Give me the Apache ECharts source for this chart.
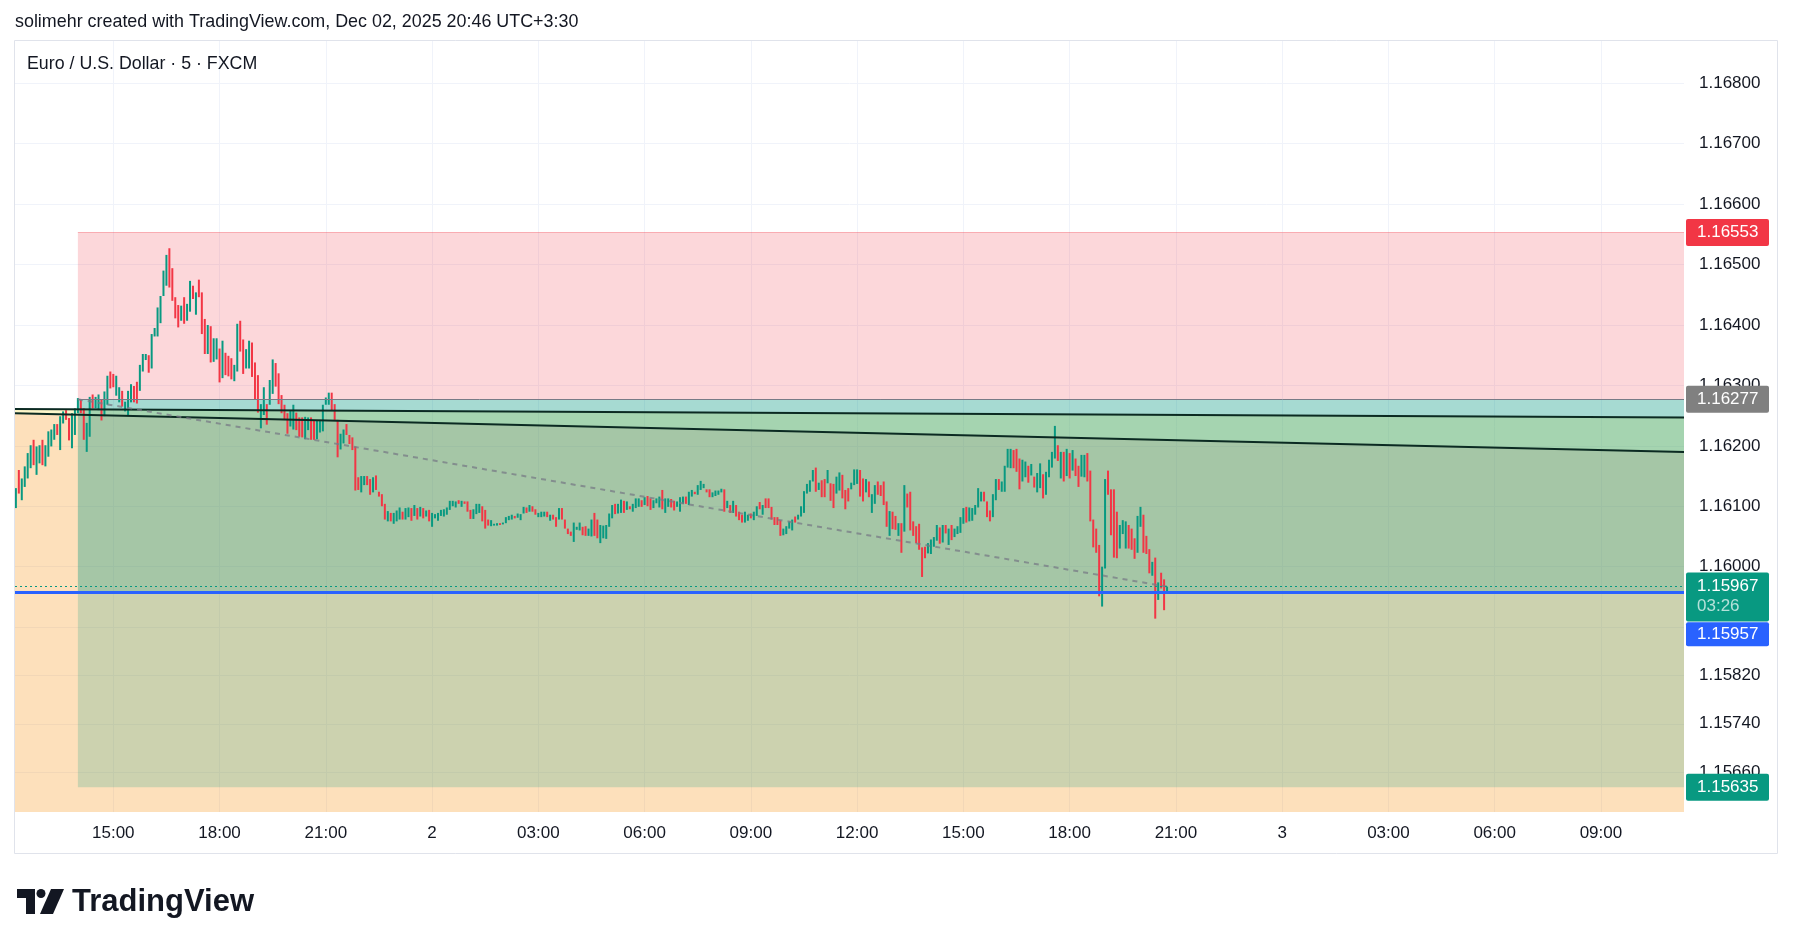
<!DOCTYPE html>
<html>
<head>
<meta charset="utf-8">
<title>EUR/USD 5m</title>
<script src="https://cdn.jsdelivr.net/npm/echarts@6/dist/echarts.min.js"></script>
<style>
  html, body { margin: 0; padding: 0; background: #fff; }
  #chart { width: 1793px; height: 944px; }
</style>
</head>
<body>
<div id="chart"></div>
<script>
// 5 minute bars, Dec 1 12:15 -> Dec 2 20:45 (UTC+3:30). x = hours since Dec 1 00:00
const firstBarHour = 12.25;
const barStepHours = 5 / 60;

const barOpen = [
  1.16097,1.16160,1.16110,1.16132,1.16146,1.16163,1.16210,1.16152,1.16171,1.16210,1.16166,1.16182,
  1.16199,1.16210,1.16236,1.16193,1.16237,1.16259,1.16246,1.16196,1.16218,1.16254,1.16276,1.16262,
  1.16190,1.16215,1.16285,1.16262,1.16259,1.16277,1.16249,1.16268,1.16323,1.16319,1.16283,1.16272,
  1.16291,1.16257,1.16251,1.16272,1.16299,1.16306,1.16291,1.16323,1.16342,1.16350,1.16328,1.16381,
  1.16381,1.16403,1.16448,1.16465,1.16527,1.16494,1.16446,1.16433,1.16407,1.16446,1.16407,1.16422,
  1.16465,1.16417,1.16475,1.16454,1.16410,1.16352,1.16398,1.16339,1.16343,1.16361,1.16312,1.16354,
  1.16349,1.16345,1.16307,1.16323,1.16407,1.16376,1.16328,1.16328,1.16371,1.16338,1.16317,1.16229,
  1.16251,1.16269,1.16268,1.16286,1.16337,1.16320,1.16284,1.16268,1.16254,1.16232,1.16227,1.16255,
  1.16247,1.16247,1.16211,1.16226,1.16247,1.16242,1.16211,1.16222,1.16224,1.16268,1.16268,1.16288,
  1.16269,1.16243,1.16194,1.16204,1.16236,1.16218,1.16214,1.16199,1.16148,1.16123,1.16135,1.16150,
  1.16145,1.16123,1.16151,1.16124,1.16120,1.16104,1.16075,1.16089,1.16071,1.16075,1.16078,1.16091,
  1.16078,1.16082,1.16097,1.16084,1.16097,1.16083,1.16097,1.16083,1.16094,1.16066,1.16080,1.16076,
  1.16084,1.16083,1.16086,1.16094,1.16100,1.16098,1.16110,1.16099,1.16108,1.16108,1.16094,1.16079,
  1.16087,1.16089,1.16100,1.16094,1.16078,1.16067,1.16068,1.16068,1.16072,1.16070,1.16072,1.16077,
  1.16078,1.16084,1.16081,1.16077,1.16088,1.16098,1.16091,1.16100,1.16095,1.16082,1.16082,1.16083,
  1.16091,1.16076,1.16086,1.16082,1.16078,1.16097,1.16078,1.16063,1.16058,1.16041,1.16061,1.16060,
  1.16066,1.16067,1.16051,1.16050,1.16089,1.16078,1.16039,1.16047,1.16046,1.16066,1.16080,1.16104,
  1.16088,1.16089,1.16109,1.16094,1.16100,1.16091,1.16097,1.16099,1.16110,1.16102,1.16117,1.16113,
  1.16097,1.16105,1.16098,1.16127,1.16089,1.16099,1.16112,1.16109,1.16099,1.16091,1.16104,1.16116,
  1.16102,1.16116,1.16124,1.16119,1.16127,1.16130,1.16128,1.16128,1.16115,1.16117,1.16119,1.16123,
  1.16128,1.16097,1.16102,1.16089,1.16102,1.16091,1.16086,1.16073,1.16076,1.16088,1.16077,1.16084,
  1.16107,1.16086,1.16113,1.16113,1.16099,1.16082,1.16082,1.16077,1.16052,1.16054,1.16063,1.16060,
  1.16083,1.16078,1.16083,1.16089,1.16121,1.16124,1.16141,1.16164,1.16127,1.16143,1.16145,1.16138,
  1.16138,1.16137,1.16121,1.16126,1.16152,1.16127,1.16130,1.16128,1.16135,1.16137,1.16160,1.16146,
  1.16123,1.16141,1.16089,1.16104,1.16141,1.16135,1.16141,1.16108,1.16051,1.16091,1.16084,1.16051,
  1.16072,1.16058,1.16121,1.16124,1.16075,1.16067,1.16071,1.16032,1.16033,1.16022,1.16021,1.16033,
  1.16043,1.16065,1.16040,1.16069,1.16036,1.16069,1.16049,1.16054,1.16056,1.16071,1.16099,1.16075,
  1.16076,1.16086,1.16098,1.16108,1.16124,1.16108,1.16093,1.16082,1.16110,1.16145,1.16124,1.16124,
  1.16164,1.16163,1.16193,1.16195,1.16179,1.16141,1.16148,1.16167,1.16151,1.16149,1.16123,1.16130,
  1.16153,1.16119,1.16148,1.16164,1.16179,1.16201,1.16146,1.16190,1.16150,1.16188,1.16159,1.16179,
  1.16167,1.16149,1.16148,1.16188,1.16159,1.16078,1.16063,1.16036,1.15934,1.15997,1.16159,1.16128,
  1.16128,1.16091,1.16030,1.16054,1.16030,1.16069,1.16063,1.16047,1.16023,1.16066,1.16086,1.16051,
  1.16029,1.15985,1.16015,1.15945,1.15990,1.15979,1.15959
];

const barClose = [
  1.16130,1.16121,1.16146,1.16166,1.16188,1.16201,1.16168,1.16199,1.16201,1.16168,1.16201,1.16224,
  1.16227,1.16236,1.16218,1.16249,1.16257,1.16243,1.16209,1.16254,1.16262,1.16279,1.16254,1.16210,
  1.16238,1.16281,1.16262,1.16281,1.16285,1.16242,1.16290,1.16316,1.16295,1.16297,1.16316,1.16297,
  1.16265,1.16273,1.16291,1.16302,1.16272,1.16270,1.16334,1.16352,1.16352,1.16321,1.16385,1.16395,
  1.16429,1.16448,1.16490,1.16516,1.16462,1.16440,1.16411,1.16396,1.16432,1.16402,1.16435,1.16473,
  1.16443,1.16454,1.16446,1.16385,1.16352,1.16400,1.16338,1.16378,1.16378,1.16305,1.16374,1.16317,
  1.16315,1.16310,1.16334,1.16402,1.16356,1.16319,1.16360,1.16374,1.16314,1.16277,1.16255,1.16269,
  1.16297,1.16235,1.16309,1.16343,1.16298,1.16269,1.16254,1.16243,1.16220,1.16258,1.16268,1.16226,
  1.16215,1.16214,1.16248,1.16247,1.16210,1.16210,1.16242,1.16243,1.16268,1.16280,1.16288,1.16259,
  1.16243,1.16181,1.16220,1.16227,1.16218,1.16203,1.16193,1.16126,1.16127,1.16150,1.16150,1.16135,
  1.16119,1.16148,1.16127,1.16116,1.16100,1.16078,1.16092,1.16075,1.16089,1.16093,1.16098,1.16078,
  1.16097,1.16098,1.16076,1.16102,1.16078,1.16099,1.16080,1.16093,1.16075,1.16089,1.16087,1.16089,
  1.16094,1.16095,1.16098,1.16109,1.16109,1.16108,1.16104,1.16109,1.16104,1.16091,1.16079,1.16095,
  1.16104,1.16104,1.16075,1.16063,1.16068,1.16077,1.16071,1.16072,1.16069,1.16073,1.16082,1.16084,
  1.16086,1.16080,1.16088,1.16087,1.16099,1.16089,1.16102,1.16091,1.16086,1.16089,1.16091,1.16091,
  1.16082,1.16086,1.16078,1.16066,1.16097,1.16078,1.16063,1.16054,1.16051,1.16073,1.16066,1.16073,
  1.16052,1.16051,1.16063,1.16078,1.16051,1.16047,1.16069,1.16068,1.16069,1.16088,1.16102,1.16087,
  1.16104,1.16111,1.16089,1.16108,1.16095,1.16104,1.16113,1.16113,1.16099,1.16115,1.16100,1.16094,
  1.16110,1.16113,1.16116,1.16095,1.16113,1.16113,1.16098,1.16093,1.16108,1.16115,1.16116,1.16104,
  1.16124,1.16127,1.16120,1.16135,1.16142,1.16137,1.16123,1.16115,1.16123,1.16126,1.16126,1.16129,
  1.16091,1.16109,1.16089,1.16109,1.16083,1.16077,1.16073,1.16091,1.16086,1.16080,1.16091,1.16100,
  1.16095,1.16102,1.16097,1.16097,1.16078,1.16069,1.16069,1.16051,1.16063,1.16067,1.16075,1.16078,
  1.16073,1.16086,1.16100,1.16125,1.16137,1.16143,1.16160,1.16124,1.16139,1.16115,1.16115,1.16160,
  1.16109,1.16097,1.16149,1.16156,1.16113,1.16095,1.16108,1.16139,1.16161,1.16161,1.16116,1.16108,
  1.16145,1.16115,1.16120,1.16135,1.16119,1.16117,1.16102,1.16066,1.16092,1.16062,1.16061,1.16072,
  1.16023,1.16135,1.16098,1.16060,1.16051,1.16039,1.16028,1.15983,1.16014,1.16039,1.16045,1.16049,
  1.16069,1.16038,1.16069,1.16055,1.16063,1.16044,1.16063,1.16067,1.16082,1.16097,1.16073,1.16098,
  1.16097,1.16102,1.16130,1.16124,1.16108,1.16082,1.16075,1.16120,1.16145,1.16127,1.16141,1.16167,
  1.16195,1.16195,1.16163,1.16157,1.16128,1.16177,1.16174,1.16139,1.16170,1.16131,1.16155,1.16171,
  1.16113,1.16157,1.16177,1.16190,1.16233,1.16175,1.16190,1.16141,1.16195,1.16146,1.16193,1.16150,
  1.16132,1.16185,1.16185,1.16141,1.16075,1.16032,1.16023,1.15951,1.16000,1.16145,1.16119,1.16052,
  1.16015,1.16014,1.16069,1.16077,1.16075,1.16030,1.16028,1.16013,1.16084,1.16099,1.16023,1.16021,
  1.15989,1.16008,1.15914,1.15974,1.15964,1.15928,1.15967
];

const timeTicks = [15, 18, 21, 24, 27, 30, 33, 36, 39, 42, 45, 48, 51, 54, 57];
const priceGrid = [1.168, 1.167, 1.166, 1.165, 1.164, 1.163, 1.162, 1.161, 1.160, 1.159, 1.1582, 1.1574, 1.1566];
// 1.15900 has its grid line but its label is covered by the price tags
const priceLabels = [1.168, 1.167, 1.166, 1.165, 1.164, 1.163, 1.162, 1.161, 1.160, 1.1582, 1.1574, 1.1566];

// short position drawing
const positionStart = 14.0;
const stopPrice = 1.16553;
const entryPrice = 1.16277;
const targetPrice = 1.15635;
const lastPrice = 1.15967;
const countdown = '03:26';
const alertPrice = 1.15957;

// the two sloped lines on the left
const channelUpper = [[12.225, 1.16261], [59.345, 1.16247]];
const channelLower = [[12.225, 1.16254], [59.345, 1.16190]];

const FONT = '"Liberation Sans", Arial, sans-serif';
const UP = '#089981', DOWN = '#F23645', INK = '#131722';
const xMin = 12.225, xMax = 59.345, yMin = 1.15594, yMax = 1.1687;

const candles = barOpen.map((o, i) => [firstBarHour + i * barStepHours, o, barClose[i]]);
const lastBarHour = candles[candles.length - 1][0];

function timeLabel(h) {
  if (h % 24 === 0) return String(1 + h / 24);
  const hh = h % 24;
  return (hh < 10 ? '0' : '') + hh + ':00';
}

function tag(bg, price, offsetY) {
  return {
    show: true, position: 'end', distance: 2,
    formatter: price.toFixed(5),
    color: '#fff', fontFamily: FONT, fontSize: 17, lineHeight: 19,
    backgroundColor: bg, borderRadius: 2, padding: [4, 11, 4, 11],
    width: 61, align: 'left', offset: [0, offsetY || 0]
  };
}

const chart = echarts.init(document.getElementById('chart'));

chart.setOption({
  animation: false,
  backgroundColor: '#fff',
  grid: { left: 15, top: 41, width: 1669, height: 771 },
  xAxis: {
    type: 'value', min: xMin, max: xMax,
    axisLine: { show: false },
    axisTick: { show: false, customValues: timeTicks },
    axisLabel: {
      customValues: timeTicks, formatter: timeLabel,
      color: INK, fontFamily: FONT, fontSize: 17, margin: 13
    },
    splitLine: { show: true, lineStyle: { color: '#f0f3fa', width: 1 } }
  },
  yAxis: {
    type: 'value', position: 'right', min: yMin, max: yMax,
    axisLine: { show: false },
    axisTick: { show: false, customValues: priceGrid },
    axisLabel: {
      customValues: priceLabels, formatter: v => v.toFixed(5),
      color: INK, fontFamily: FONT, fontSize: 17, margin: 15
    },
    splitLine: { show: true, lineStyle: { color: '#f0f3fa', width: 1 } }
  },
  series: [
    {
      // background drawings: orange/yellow fills and the position zones
      type: 'custom', z: 1, silent: true, clip: true,
      data: [[positionStart, entryPrice]],
      encode: { x: 0, y: 1 },
      renderItem: function (params, api) {
        const pt = (x, y) => api.coord([x, y]);
        const rect = (x0, x1, p0, p1, fill) => {
          const a = pt(x0, p0), b = pt(x1, p1);
          return { type: 'rect', shape: { x: a[0], y: Math.min(a[1], b[1]), width: b[0] - a[0], height: Math.abs(b[1] - a[1]) }, style: { fill: fill } };
        };
        return {
          type: 'group',
          children: [
            { type: 'polygon', shape: { points: [pt(channelLower[0][0], channelLower[0][1]), pt(channelLower[1][0], channelLower[1][1]), pt(channelLower[1][0], yMin), pt(channelLower[0][0], yMin)] }, style: { fill: 'rgba(250,152,30,0.3)' } },
            { type: 'polygon', shape: { points: [pt(channelUpper[0][0], channelUpper[0][1]), pt(channelUpper[1][0], channelUpper[1][1]), pt(channelLower[1][0], channelLower[1][1]), pt(channelLower[0][0], channelLower[0][1])] }, style: { fill: 'rgba(250,225,80,0.3)' } },
            rect(positionStart, xMax, stopPrice, entryPrice, 'rgba(242,54,69,0.2)'),
            rect(positionStart, xMax, entryPrice, alertPrice, 'rgba(8,153,129,0.36)'),
            rect(positionStart, xMax, alertPrice, targetPrice, 'rgba(8,153,129,0.2)')
          ]
        };
      }
    },
    {
      // 5m candles
      type: 'custom', z: 3, silent: true,
      data: candles,
      encode: { x: 0, y: [1, 2] },
      renderItem: function (params, api) {
        const x = api.value(0), o = api.value(1), c = api.value(2);
        const top = api.coord([x, Math.max(o, c)]);
        const bot = api.coord([x, Math.min(o, c)]);
        return {
          type: 'rect',
          shape: { x: top[0] - 1, y: top[1], width: 2, height: Math.max(1, bot[1] - top[1]) },
          style: { fill: c >= o ? UP : DOWN }
        };
      }
    },
    {
      type: 'line', z: 4, silent: true, symbol: 'none',
      data: channelUpper, lineStyle: { color: '#0b2a22', width: 2 }
    },
    {
      type: 'line', z: 4, silent: true, symbol: 'none',
      data: channelLower, lineStyle: { color: '#0b2a22', width: 2 }
    },
    {
      type: 'line', z: 4, silent: true, symbol: 'none',
      data: [[positionStart, entryPrice], [lastBarHour, lastPrice]],
      lineStyle: { color: 'rgba(120,123,134,0.75)', width: 2, type: [5, 5] }
    },
    {
      type: 'line', z: 5, silent: true, data: [],
      markLine: {
        silent: true, symbol: ['none', 'none'], precision: 5,
        data: [
          [{ coord: [positionStart, stopPrice], lineStyle: { color: 'rgba(242,54,69,0.35)', width: 1, type: 'solid' }, label: tag(DOWN, stopPrice) },
           { coord: [xMax, stopPrice] }],
          [{ coord: [positionStart, entryPrice], lineStyle: { color: '#787B86', width: 1, type: 'solid' }, label: tag('#808080', entryPrice) },
           { coord: [xMax, entryPrice] }],
          [{ coord: [positionStart, targetPrice], lineStyle: { color: 'rgba(0,0,0,0)', width: 1 }, label: tag(UP, targetPrice) },
           { coord: [xMax, targetPrice] }],
          {
            yAxis: lastPrice,
            lineStyle: { color: UP, width: 1, type: [2, 3] },
            label: {
              show: true, position: 'end', distance: 2,
              formatter: '{p|' + lastPrice.toFixed(5) + '}\n{t|' + countdown + '}',
              backgroundColor: UP, borderRadius: 2, padding: [4, 11, 5, 11],
              width: 61, align: 'left', offset: [0, 10.5],
              rich: {
                p: { color: '#fff', fontFamily: FONT, fontSize: 17, lineHeight: 20 },
                t: { color: 'rgba(255,255,255,0.7)', fontFamily: FONT, fontSize: 17, lineHeight: 20 }
              }
            }
          },
          {
            yAxis: alertPrice,
            lineStyle: { color: '#2962FF', width: 3, type: 'solid' },
            label: Object.assign(tag('#2962FF', alertPrice, 41.5), { padding: [3, 11, 3, 11], lineHeight: 18 })
          }
        ]
      }
    }
  ],
  graphic: [
    { type: 'text', x: 15, y: 22, style: { text: 'solimehr created with TradingView.com, Dec 02, 2025 20:46 UTC+3:30', font: '17.9px ' + FONT, fill: INK, verticalAlign: 'middle' } },
    { type: 'text', x: 27, y: 64, z: 10, style: { text: 'Euro / U.S. Dollar · 5 · FXCM', font: '17.8px ' + FONT, fill: INK, verticalAlign: 'middle' } },
    { type: 'rect', z: 10, silent: true, shape: { x: 14.5, y: 40.5, width: 1763, height: 813 }, style: { fill: 'none', stroke: '#e0e3eb', lineWidth: 1 } },
    { type: 'polygon', shape: { points: [[17, 889], [35, 889], [35, 914], [26, 914], [26, 898], [17, 898]] }, style: { fill: INK } },
    { type: 'circle', shape: { cx: 41, cy: 893.5, r: 4.5 }, style: { fill: INK } },
    { type: 'polygon', shape: { points: [[51, 889], [64, 889], [53, 914], [40, 914]] }, style: { fill: INK } },
    { type: 'text', x: 72, y: 902, style: { text: 'TradingView', font: 'bold 31px ' + FONT, fill: INK, verticalAlign: 'middle' } }
  ]
});
</script>
</body>
</html>
